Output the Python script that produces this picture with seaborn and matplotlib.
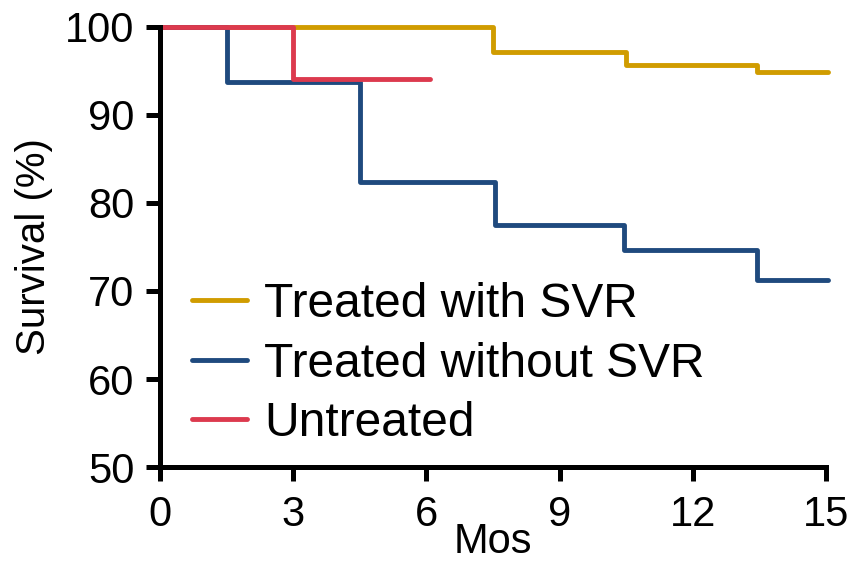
import matplotlib
matplotlib.use("Agg")
import matplotlib.pyplot as plt
import seaborn as sns
import pandas as pd

# Data
groups = ["Treated with SVR", "Treated without SVR", "Untreated"]
svr_time = [0, 7.5, 10.5, 13.45, 15.05]
svr_surv = [100, 97.1, 95.7, 94.9, 94.9]
nosvr_time = [0, 1.5, 4.5, 7.55, 10.45, 13.45, 15.05]
nosvr_surv = [100, 93.75, 82.4, 77.5, 74.6, 71.2, 71.2]
untr_time = [0, 3.0, 6.08]
untr_surv = [100, 94.1, 94.1]
colors = ["#D09C00", "#1F4A7E", "#DC3A4E"]
x_ticks = [0, 3, 6, 9, 12, 15]
y_ticks = [50, 60, 70, 80, 90, 100]

frames = []
for g, t, s in zip(groups, [svr_time, nosvr_time, untr_time],
                   [svr_surv, nosvr_surv, untr_surv]):
    frames.append(pd.DataFrame({"Mos": t, "Survival": s, "Group": g}))
df = pd.concat(frames, ignore_index=True)

sns.set_theme(style="ticks")
plt.rcParams["font.family"] = ["Liberation Sans", "DejaVu Sans"]
plt.rcParams["text.color"] = "black"

fig = plt.figure(figsize=(8.48, 5.67), dpi=100)
ax = fig.add_axes([0.1887, 0.176, 0.7853, 0.777])

sns.lineplot(data=df, x="Mos", y="Survival", hue="Group", hue_order=groups,
             palette=colors, drawstyle="steps-post", linewidth=3.5,
             estimator=None, sort=False, ax=ax, legend=True)

ax.set_xlim(0, 15)
ax.set_ylim(50, 100)
ax.set_xticks(x_ticks)
ax.set_yticks(y_ticks)
ax.set_xticklabels([str(v) for v in x_ticks])
ax.set_yticklabels([str(v) for v in y_ticks])
for line in ax.lines:
    line.set_clip_on(False)

sns.despine(ax=ax)
for side in ["left", "bottom"]:
    ax.spines[side].set_linewidth(3.6)
    ax.spines[side].set_color("black")
ax.tick_params(axis="both", which="major", length=10, width=3.6,
               direction="out", labelsize=30, color="black",
               labelcolor="black")
ax.tick_params(axis="x", pad=10)
ax.tick_params(axis="y", pad=8.5)

ax.set_xlabel("Mos", fontsize=30, labelpad=-9, color="black")
ax.set_ylabel("Survival (%)", fontsize=29, labelpad=8.5, color="black")

leg = ax.legend(loc="upper left", bbox_to_anchor=(0.048, 0.42),
                frameon=False, fontsize=34.5, handlelength=1.15,
                handletextpad=0.36, labelspacing=0.3, borderpad=0,
                borderaxespad=0)
for t in leg.get_texts():
    t.set_color("black")
for h in leg.get_lines():
    h.set_linewidth(3.5)

fig.savefig("out.png", dpi=100)
